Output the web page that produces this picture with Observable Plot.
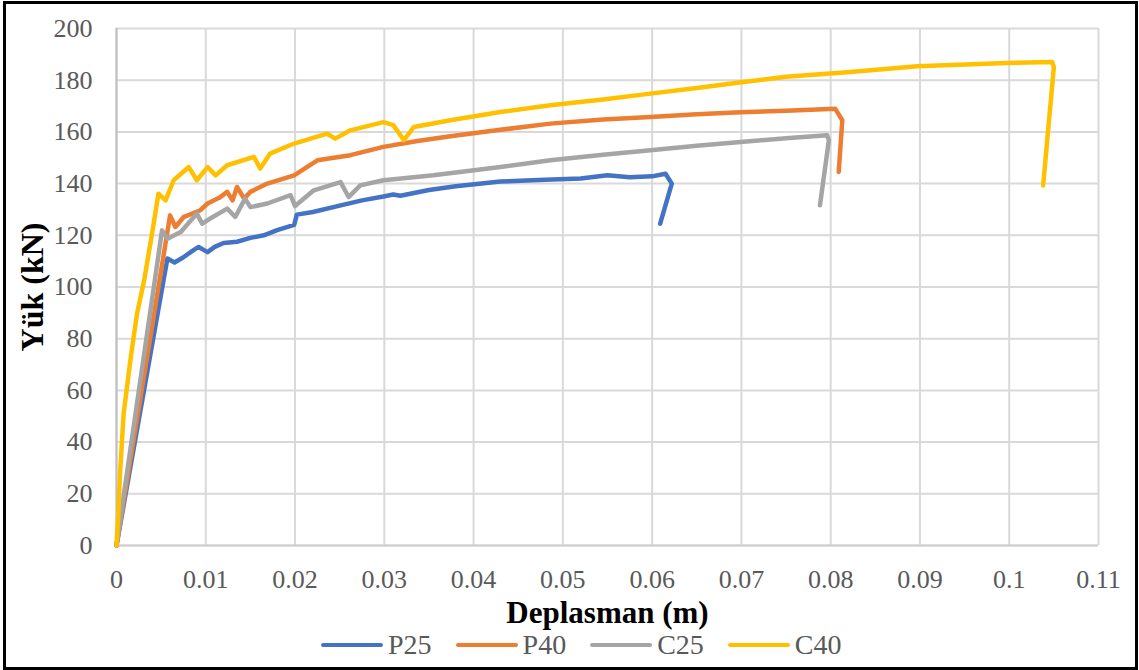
<!DOCTYPE html>
<html><head><meta charset="utf-8">
<script src="https://cdn.jsdelivr.net/npm/d3@7"></script>
<script src="https://cdn.jsdelivr.net/npm/@observablehq/plot@0.6"></script>
<style>
html,body{margin:0;padding:0;background:#fff;}
#chart{position:absolute;left:0;top:0;width:1139px;height:670px;}
#frame{position:absolute;left:3px;top:1px;width:1135px;height:669px;border:3px solid #000;box-sizing:border-box;pointer-events:none;}
#legend{position:absolute;left:321px;top:625px;height:40px;display:flex;gap:24px;align-items:center;font-family:"Liberation Serif","Times New Roman",serif;font-size:28px;color:#595959;}
.item{display:flex;align-items:center;}
.sw{display:inline-block;width:62px;height:4px;border-radius:2px;margin-right:5px;}
</style></head><body>
<div id="chart"></div>
<div id="legend"></div>
<div id="frame"></div>
<script>
const seriesNames = ["P25", "P40", "C25", "C40"];
const seriesColors = ["#4472C4", "#ED7D31", "#A5A5A5", "#FFC000"];
const xTicks = [0, 0.01, 0.02, 0.03, 0.04, 0.05, 0.06, 0.07, 0.08, 0.09, 0.1, 0.11];
const yTicks = [0, 20, 40, 60, 80, 100, 120, 140, 160, 180, 200];

const p25X = [0, 0.0057, 0.0065, 0.0075, 0.0085, 0.0092, 0.0102, 0.011, 0.012, 0.0135, 0.015, 0.0165, 0.018, 0.0199, 0.0202, 0.022, 0.025, 0.0275, 0.0299, 0.031, 0.0318, 0.035, 0.038, 0.043, 0.048, 0.052, 0.055, 0.0575, 0.06, 0.0615, 0.0622, 0.0609];
const p25Y = [0, 111, 109.5, 111.5, 114, 115.5, 113.5, 115.5, 117, 117.5, 119, 120, 122, 124, 128, 129, 131.5, 133.5, 135, 135.8, 135.3, 137.5, 139, 140.8, 141.5, 142, 143.2, 142.5, 142.8, 143.8, 140, 124.5];

const p40X = [0, 0.006, 0.0066, 0.0075, 0.0094, 0.0102, 0.0115, 0.0124, 0.013, 0.0135, 0.0143, 0.015, 0.0169, 0.0199, 0.0225, 0.0262, 0.0299, 0.0337, 0.0374, 0.043, 0.0486, 0.0545, 0.0598, 0.065, 0.0699, 0.075, 0.0805, 0.0813, 0.0809];
const p40Y = [0, 127.7, 123.2, 127, 129.7, 132.3, 134.5, 136.8, 133.5, 138.7, 134.2, 136.8, 140, 143.2, 149, 151, 154.2, 156.5, 158.3, 160.8, 163.2, 164.8, 165.8, 166.8, 167.6, 168.2, 169, 164.5, 144.5];

const c25X = [0, 0.0051, 0.0057, 0.0072, 0.009, 0.0096, 0.0105, 0.0124, 0.0133, 0.0144, 0.015, 0.0169, 0.0195, 0.02, 0.021, 0.0221, 0.0251, 0.026, 0.0273, 0.0299, 0.0355, 0.043, 0.0486, 0.0545, 0.0598, 0.065, 0.0699, 0.075, 0.0796, 0.0798, 0.0788];
const c25Y = [0, 121.9, 118.7, 121.3, 128.4, 124.5, 126.5, 130.3, 127.1, 134.2, 130.9, 132.3, 135.5, 131.3, 134.2, 137.4, 140.6, 134.8, 139.3, 141.3, 143.2, 146.4, 149, 151.2, 152.9, 154.6, 156.1, 157.5, 158.7, 156.8, 131.6];

const c40X = [0, 0.0002, 0.0004, 0.0008, 0.0016, 0.0023, 0.0031, 0.004, 0.0047, 0.0055, 0.0064, 0.0081, 0.009, 0.0102, 0.0111, 0.0124, 0.0154, 0.0161, 0.0172, 0.0199, 0.0236, 0.0245, 0.0262, 0.0299, 0.031, 0.0322, 0.0333, 0.0374, 0.043, 0.0486, 0.0545, 0.0598, 0.065, 0.07, 0.075, 0.0822, 0.0897, 0.0997, 0.1048, 0.105, 0.1038];
const c40Y = [0, 12, 28, 51, 72.9, 89.7, 102.6, 121, 136.1, 133.5, 141.3, 146.4, 141.3, 146.4, 143.2, 147.1, 150.3, 145.8, 151.6, 155.5, 159.3, 157.4, 160.6, 163.8, 162.6, 156.8, 161.9, 164.5, 167.7, 170.3, 172.5, 174.8, 177, 179.2, 181.3, 183.2, 185.4, 186.7, 187, 185.1, 139.3];

const xLabel = "Deplasman (m)";
const yLabel = "Yük (kN)";

const allX = [p25X, p40X, c25X, c40X];
const allY = [p25Y, p40Y, c25Y, c40Y];
const rows = [];
seriesNames.forEach((s, i) => {
  allX[i].forEach((x, j) => rows.push({series: s, x, y: allY[i][j]}));
});

const chart = Plot.plot({
  width: 1139,
  height: 625,
  marginLeft: 116,
  marginRight: 41,
  marginTop: 28,
  marginBottom: 80,
  style: {fontFamily: "'Liberation Serif', 'Times New Roman', serif", fontSize: "26px", color: "#595959", background: "transparent", overflow: "visible"},
  x: {domain: [0, 0.11]},
  y: {domain: [0, 200]},
  color: {domain: seriesNames, range: seriesColors},
  marks: [
    Plot.gridX(xTicks, {stroke: "#d9d9d9", strokeOpacity: 1, strokeWidth: 2}),
    Plot.gridY(yTicks, {stroke: "#d9d9d9", strokeOpacity: 1, strokeWidth: 2}),
    Plot.ruleX([0], {stroke: "#bfbfbf", strokeWidth: 2}),
    Plot.ruleY([0], {stroke: "#cfcfcf", strokeWidth: 2}),
    Plot.axisX({ticks: xTicks, tickSize: 0, tickPadding: 24, tickFormat: d => String(d), label: null}),
    Plot.axisY({ticks: yTicks, tickSize: 0, tickPadding: 24, tickFormat: d => String(d), label: null}),
    Plot.line(rows, {x: "x", y: "y", z: "series", stroke: "series", strokeWidth: 4.5, strokeLinejoin: "round", strokeLinecap: "round"}),
    Plot.text([xLabel], {text: d => d, frameAnchor: "bottom", dy: 68, textAnchor: "middle", lineAnchor: "middle", fontSize: 31, fontWeight: "bold", fill: "#000"}),
    Plot.text([yLabel], {text: d => d, frameAnchor: "left", dx: -84, dy: 0, rotate: -90, textAnchor: "middle", lineAnchor: "middle", fontSize: 32, fontWeight: "bold", fill: "#000"})
  ]
});
document.getElementById("chart").appendChild(chart);

const legend = document.getElementById("legend");
seriesNames.forEach((s, i) => {
  const item = document.createElement("div");
  item.className = "item";
  const sw = document.createElement("span");
  sw.className = "sw";
  sw.style.background = seriesColors[i];
  const t = document.createElement("span");
  t.textContent = s;
  item.appendChild(sw);
  item.appendChild(t);
  legend.appendChild(item);
});
</script>
</body></html>
